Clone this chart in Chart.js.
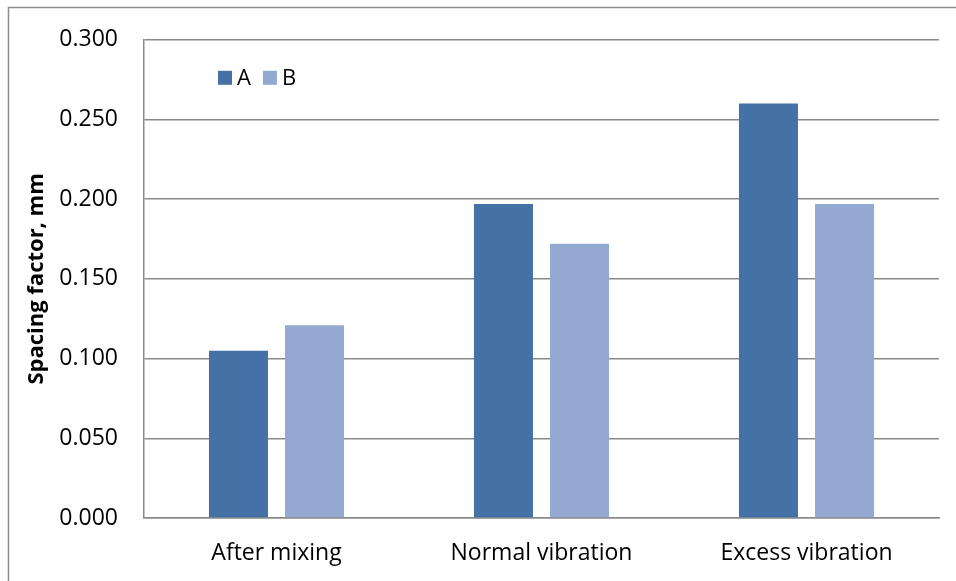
<!DOCTYPE html>
<html>
<head>
<meta charset="utf-8">
<script src="https://cdn.jsdelivr.net/npm/chart.js@4/dist/chart.umd.min.js"></script>
<style>
  html, body { margin: 0; padding: 0; background: #fff; }
  #wrap { position: relative; width: 956px; height: 581px; }
</style>
</head>
<body>
<div id="wrap"><canvas id="chart" width="956" height="581"></canvas></div>
<script>
// data
const categories = ['After mixing', 'Normal vibration', 'Excess vibration'];
const seriesNames = ['A', 'B'];
const valuesA = [0.105, 0.197, 0.260];
const valuesB = [0.121, 0.172, 0.197];
const yTicks = [0, 0.05, 0.10, 0.15, 0.20, 0.25, 0.30];

const colA = '#4572a6';
const colB = '#94a9d1';
const gridCol = '#8a8a8a';
const font = "'Open Sans', 'Noto Sans', sans-serif";

// outer frame + legend drawn inside plot area
const framePlugin = {
  id: 'frame',
  beforeDraw(chart) {
    const c = chart.ctx;
    c.save();
    c.fillStyle = '#fff';
    c.fillRect(0, 0, chart.width, chart.height);
    c.strokeStyle = '#8c8c8c';
    c.lineWidth = 1.5;
    c.beginPath();
    c.moveTo(8.5, chart.height + 5);
    c.lineTo(8.5, 7.5);
    c.lineTo(chart.width + 5, 7.5);
    c.stroke();
    c.restore();
  },
  afterDraw(chart) {
    const c = chart.ctx;
    const a = chart.chartArea;
    c.save();
    c.font = '22px ' + font;
    c.textBaseline = 'middle';
    let x = a.left + 74;
    const y = a.top + 38;
    chart.data.datasets.forEach(ds => {
      c.fillStyle = ds.backgroundColor;
      c.fillRect(x, y - 7, 14, 14);
      c.fillStyle = '#000';
      c.fillText(ds.label, x + 19, y + 1);
      x += 19 + c.measureText(ds.label).width + 12;
    });
    c.restore();
  }
};

new Chart(document.getElementById('chart'), {
  type: 'bar',
  data: {
    labels: categories,
    datasets: [
      { label: seriesNames[0], data: valuesA, backgroundColor: colA },
      { label: seriesNames[1], data: valuesB, backgroundColor: colB }
    ]
  },
  options: {
    responsive: false,
    animation: false,
    devicePixelRatio: 1,
    layout: { padding: { left: 8, top: 37, right: 17, bottom: 0 } },
    datasets: { bar: { categoryPercentage: 0.574, barPercentage: 0.776 } },
    plugins: { legend: { display: false }, tooltip: { enabled: false } },
    scales: {
      x: {
        grid: { display: false, drawTicks: false },
        border: { display: true, color: gridCol, width: 1.5 },
        ticks: { color: '#000', font: { family: font, size: 23 }, padding: 22 },
        afterFit(s) { s.height = 63; }
      },
      y: {
        min: 0,
        max: 0.3,
        afterBuildTicks(s) { s.ticks = yTicks.map(v => ({ value: v })); },
        grid: { color: gridCol, lineWidth: 1.5, drawTicks: false },
        border: { display: true, color: gridCol, width: 1.5 },
        ticks: {
          color: '#000',
          font: { family: font, size: 23 },
          padding: 26,
          callback: v => Number(v).toFixed(3)
        },
        title: {
          display: true,
          text: 'Spacing factor, mm',
          color: '#000',
          font: { family: font, size: 22, weight: 'bold' },
          padding: { top: 16, bottom: 0 }
        },
        afterFit(s) { s.width = 136; }
      }
    }
  },
  plugins: [framePlugin]
});
</script>
</body>
</html>
